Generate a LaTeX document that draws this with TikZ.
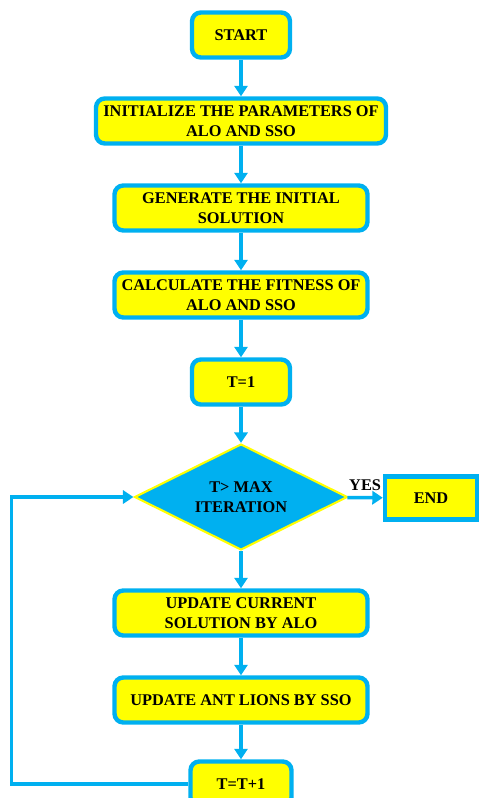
\documentclass[tikz,border=0pt]{standalone}
\usepackage{fontspec}
\setmainfont{Liberation Serif}
\usetikzlibrary{shapes.geometric,arrows.meta}
\definecolor{flowblue}{RGB}{0,176,240}
\definecolor{flowyellow}{RGB}{255,255,0}
\tikzset{
	procbox/.style={draw=flowblue, line width=2.5pt, fill=flowyellow, rounded corners=5pt,
		align=center, inner sep=0pt, minimum height=0.9cm,
		font=\bfseries\fontsize{9.3}{11.3}\selectfont},
	decbox/.style={diamond, aspect=2, draw=flowyellow, line width=1.2pt, fill=flowblue, align=center,
		inner sep=0pt, minimum width=4.26cm, minimum height=2.12cm,
		font=\bfseries\fontsize{9.3}{11.3}\selectfont},
	stopbox/.style={procbox, rounded corners=0pt},
	flowline/.style={draw=flowblue, line width=2pt, -{Triangle[length=6pt,width=7.5pt]}}
}
\begin{document}
\begin{tikzpicture}[x=0.02cm, y=-0.02cm]
	\useasboundingbox (0,0) rectangle (479,798);
	\clip (0,0) rectangle (479,798);
	
	\node[procbox, minimum width=1.96cm] (start) at (241,35) {START};
	\node[procbox, minimum width=5.8cm] (init) at (241,121) {INITIALIZE THE PARAMETERS OF\\ALO AND SSO};
	\node[procbox, minimum width=5.06cm] (gen) at (241,208) {GENERATE THE INITIAL\\SOLUTION};
	\node[procbox, minimum width=5.06cm] (calc) at (241,295) {CALCULATE THE FITNESS OF\\ALO AND SSO};
	\node[procbox, minimum width=1.96cm] (tone) at (241,382) {T=1};
	\node[decbox] (dec) at (241,497) {T> MAX\\ITERATION};
	\node[stopbox, minimum width=1.84cm, minimum height=0.86cm] (stop) at (431,498) {END};
	\node[procbox, minimum width=5.06cm] (updalo) at (241,613) {UPDATE CURRENT\\SOLUTION BY ALO};
	\node[procbox, minimum width=5.06cm] (updsso) at (241,700) {UPDATE ANT LIONS BY SSO};
	\node[procbox, minimum width=2.02cm] (tinc) at (241,784) {T=T+1};
	
	\draw[flowline] (start) -- (init);
	\draw[flowline] (init) -- (gen);
	\draw[flowline] (gen) -- (calc);
	\draw[flowline] (calc) -- (tone);
	\draw[flowline] (tone) -- (dec);
	\draw[flowline] (dec) -- node[above, inner sep=3pt, font=\bfseries\fontsize{9.3}{11.3}\selectfont] {YES} (stop);
	\draw[flowline] (dec) -- (updalo);
	\draw[flowline] (updalo) -- (updsso);
	\draw[flowline] (updsso) -- (tinc);
	\draw[flowline] (tinc.west) -- ++(-177,0) |- (dec.west);
	
\end{tikzpicture}
\end{document}
